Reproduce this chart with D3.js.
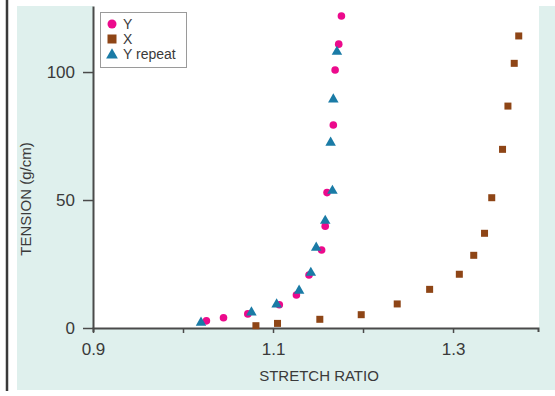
<!DOCTYPE html>
<html>
<head>
<meta charset="utf-8">
<script src="https://cdn.jsdelivr.net/npm/d3@7"></script>
<style>
  html, body { margin: 0; padding: 0; background: #ffffff; }
  svg { display: block; font-family: "Liberation Sans", Arial, sans-serif; }
</style>
</head>
<body>
<div id="chart-container"></div>
<script>
// Data: stretch ratio (x) and tension (g/cm)
const yRatio = [1.026, 1.045, 1.072, 1.107, 1.126, 1.140, 1.154, 1.158, 1.160, 1.167, 1.169, 1.173, 1.176];
const yTension = [2.8, 4.0, 5.5, 9.1, 12.9, 20.7, 30.5, 39.8, 52.9, 79.3, 100.8, 110.9, 121.9];

const xRatio = [1.081, 1.105, 1.152, 1.198, 1.238, 1.274, 1.307, 1.323, 1.335, 1.343, 1.355, 1.361, 1.368, 1.373];
const xTension = [0.9, 1.8, 3.4, 5.2, 9.4, 15.1, 21.0, 28.4, 37.0, 50.9, 69.8, 86.7, 103.4, 114.1];

const repRatio = [1.020, 1.076, 1.104, 1.129, 1.142, 1.148, 1.158, 1.166, 1.164, 1.167, 1.171];
const repTension = [2.1, 6.1, 9.2, 14.6, 21.6, 31.4, 41.9, 53.6, 72.4, 89.3, 107.9];

const seriesNames = ["Y", "X", "Y repeat"];
const xTicks = [0.9, 1.0, 1.1, 1.2, 1.3];
const xTickLabels = ["0.9", "", "1.1", "", "1.3"];
const yTicks = [0, 50, 100];

const W = 555, H = 396;
const plot = { left: 93, right: 538, top: 6, bottom: 328 };

const svg = d3.select("#chart-container")
    .append("svg")
    .attr("width", W)
    .attr("height", H);

// Backgrounds (white page, mint panel, white plot area)
svg.append("rect").attr("width", W).attr("height", H).attr("fill", "#ffffff");
svg.append("rect")
    .attr("x", 17).attr("y", 6)
    .attr("width", W - 17).attr("height", 384)
    .attr("fill", "#dff0ed");
svg.append("rect")
    .attr("x", plot.left).attr("y", plot.top)
    .attr("width", 539 - plot.left).attr("height", plot.bottom - plot.top)
    .attr("fill", "#ffffff");
// Dark rule on the left edge
svg.append("line")
    .attr("x1", 7).attr("x2", 7).attr("y1", 0).attr("y2", 391)
    .attr("stroke", "#3a3a3a").attr("stroke-width", 2.5);

// Scales
const x = d3.scaleLinear().domain([0.9, 1.3944]).range([plot.left, plot.right]);
const y = d3.scaleLinear().domain([0, 125.8]).range([plot.bottom, plot.top]);

// X axis
const gx = svg.append("g")
    .attr("transform", `translate(0,${plot.bottom})`)
    .call(d3.axisBottom(x)
        .tickValues(xTicks)
        .tickFormat((d, i) => xTickLabels[i])
        .tickSizeInner(5)
        .tickSizeOuter(4)
        .tickPadding(10));
gx.select(".domain").attr("stroke", "#4a4a4a").attr("stroke-width", 2);
gx.selectAll(".tick line").attr("stroke", "#4a4a4a").attr("stroke-width", 1.5);
gx.selectAll(".tick text")
    .style("font-size", "17px")
    .style("fill", "#3a3a3a");

// Y axis
const gy = svg.append("g")
    .attr("transform", `translate(${plot.left},0)`)
    .call(d3.axisLeft(y)
        .tickValues(yTicks)
        .tickSizeInner(10)
        .tickSizeOuter(0)
        .tickPadding(8));
gy.select(".domain").attr("stroke", "#4a4a4a").attr("stroke-width", 2);
gy.selectAll(".tick line").attr("stroke", "#4a4a4a").attr("stroke-width", 1.5);
gy.selectAll(".tick text")
    .style("font-size", "17px")
    .style("fill", "#3a3a3a");

// Axis titles
svg.append("text")
    .attr("x", 319).attr("y", 381)
    .attr("text-anchor", "middle")
    .style("font-size", "15px")
    .style("fill", "#3a3a3a")
    .text("STRETCH RATIO");

svg.append("text")
    .attr("transform", "translate(31,199) rotate(-90)")
    .attr("text-anchor", "middle")
    .style("font-size", "15px")
    .style("fill", "#3a3a3a")
    .text("TENSION (g/cm)");

// Marker styles
const colors = ["#ec0a8c", "#8e4516", "#1a7ba6"];
const triangle = d3.symbol().type(d3.symbolTriangle).size(48);

// X series (squares)
svg.append("g").selectAll("rect")
    .data(d3.zip(xRatio, xTension))
    .join("rect")
    .attr("x", d => x(d[0]) - 3.5)
    .attr("y", d => y(d[1]) - 3.5)
    .attr("width", 7).attr("height", 7)
    .attr("fill", colors[1]);

// Y series (circles)
svg.append("g").selectAll("circle")
    .data(d3.zip(yRatio, yTension))
    .join("circle")
    .attr("cx", d => x(d[0]))
    .attr("cy", d => y(d[1]))
    .attr("r", 3.8)
    .attr("fill", colors[0]);

// Y repeat series (triangles)
svg.append("g").selectAll("path")
    .data(d3.zip(repRatio, repTension))
    .join("path")
    .attr("d", triangle)
    .attr("transform", d => `translate(${x(d[0])},${y(d[1])})`)
    .attr("fill", colors[2]);

// Legend
const legend = svg.append("g");
legend.append("rect")
    .attr("x", 100.5).attr("y", 12.5)
    .attr("width", 86).attr("height", 55)
    .attr("fill", "#ffffff")
    .attr("stroke", "#9a9a9a");

seriesNames.forEach((name, i) => {
    const cy = 24 + i * 15;
    if (i === 0) {
        legend.append("circle").attr("cx", 112).attr("cy", cy).attr("r", 4.5).attr("fill", colors[0]);
    } else if (i === 1) {
        legend.append("rect").attr("x", 107.5).attr("y", cy - 4.5).attr("width", 9).attr("height", 9).attr("fill", colors[1]);
    } else {
        legend.append("path").attr("d", d3.symbol().type(d3.symbolTriangle).size(60))
            .attr("transform", `translate(112,${cy + 1})`).attr("fill", colors[2]);
    }
    legend.append("text")
        .attr("x", 123).attr("y", cy + 5)
        .style("font-size", "14px")
        .style("fill", "#3a3a3a")
        .text(name);
});
</script>
</body>
</html>
